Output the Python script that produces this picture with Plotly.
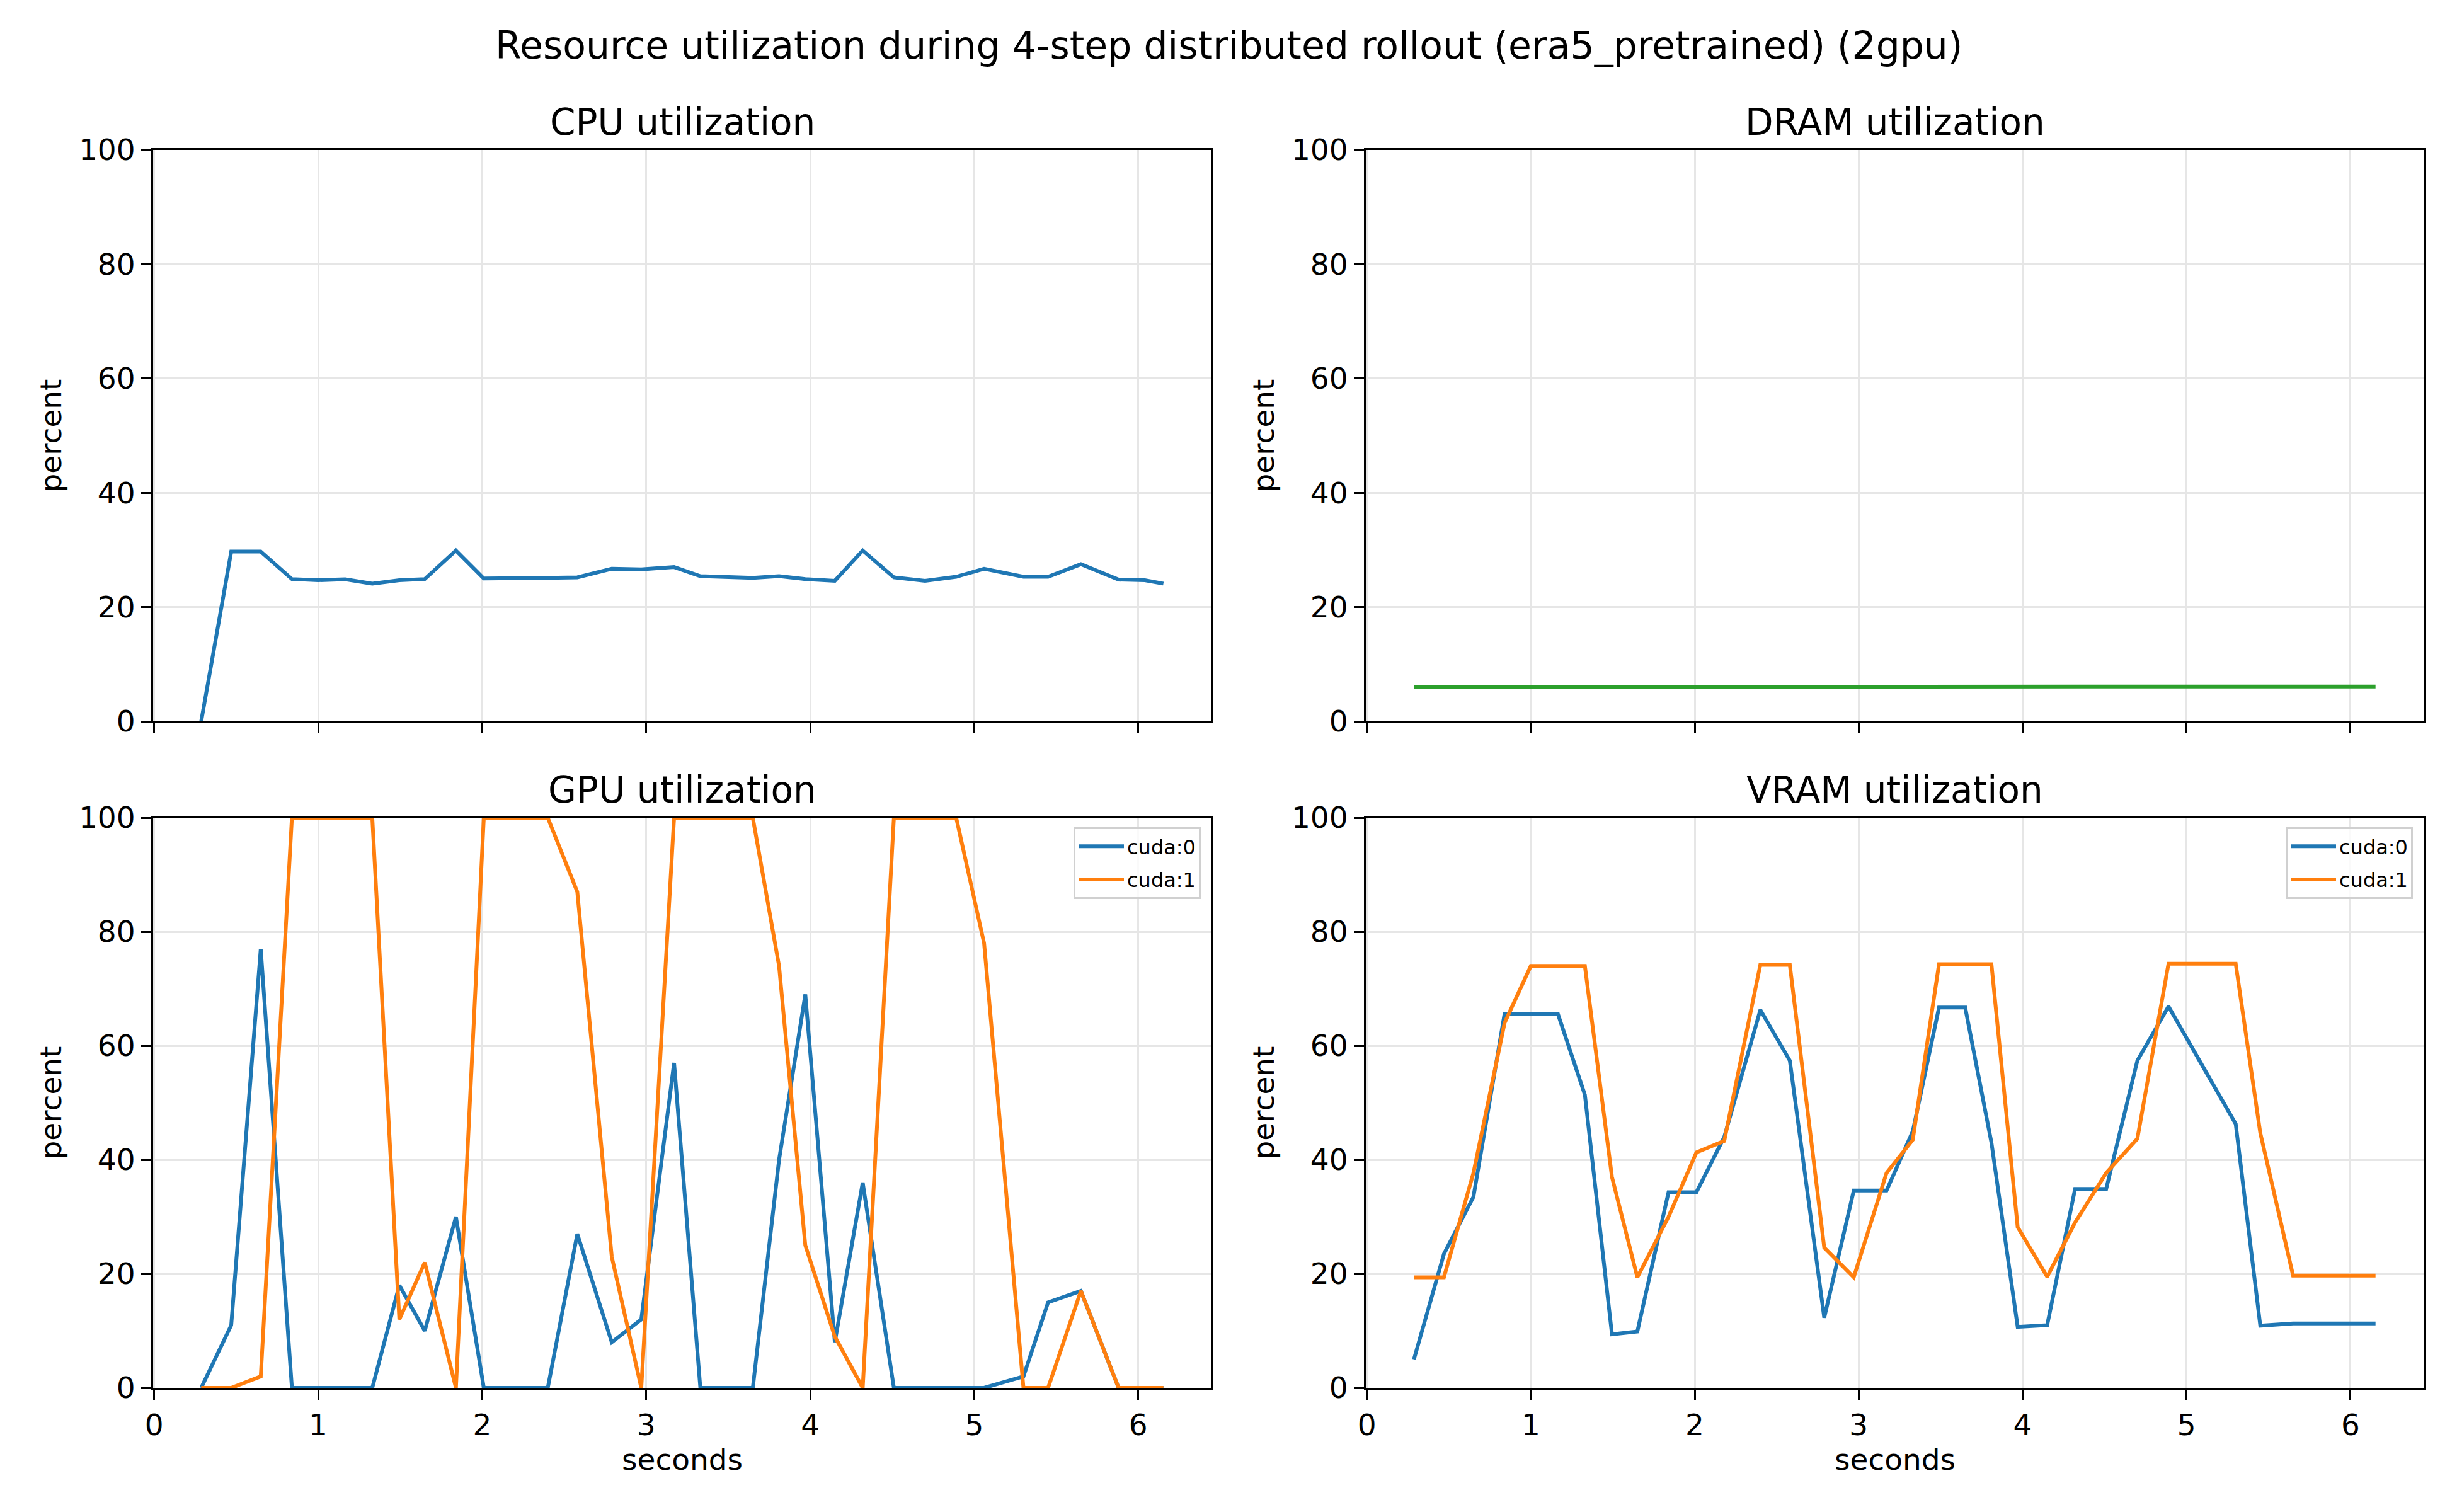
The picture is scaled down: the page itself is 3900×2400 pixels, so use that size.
import plotly.graph_objects as go

# ---------------- data ----------------
seconds = [0.287, 0.47, 0.65, 0.84, 1.0, 1.165, 1.33, 1.495, 1.65, 1.84,
           2.01, 2.18, 2.40, 2.58, 2.79, 2.97, 3.17, 3.33, 3.49, 3.65,
           3.81, 3.97, 4.15, 4.32, 4.51, 4.70, 4.89, 5.06, 5.30, 5.45,
           5.65, 5.88, 6.04, 6.153]

cpu_util = [0.0, 29.7, 29.7, 24.9, 24.7, 24.85, 24.1, 24.7, 24.9, 29.9,
            25.0, 25.0, 25.1, 25.2, 26.7, 26.6, 27.0, 25.4, 25.3, 25.1,
            25.4, 24.9, 24.6, 29.9, 25.2, 24.6, 25.3, 26.7, 25.3, 25.3,
            27.5, 24.8, 24.7, 24.1]

dram_util = [6.05, 6.05, 6.05, 6.05, 6.05, 6.05, 6.05, 6.05, 6.05, 6.05,
             6.1, 6.1, 6.05, 6.05, 6.05, 6.05, 6.1, 6.1, 6.05, 6.05,
             6.05, 6.05, 6.05, 6.1, 6.1, 6.1, 6.05, 6.05, 6.05, 6.05,
             6.05, 6.05, 6.1, 6.1]

gpu_cuda0 = [0, 11, 77, 0, 0, 0, 0, 18, 10, 30,
             0, 0, 0, 27, 8, 12, 57, 0, 0, 0,
             40, 69, 8, 36, 0, 0, 0, 0, 2, 15,
             17, 0, 0, 0]
gpu_cuda1 = [0, 0, 2, 100, 100, 100, 100, 12, 22, 0,
             100, 100, 100, 87, 23, 0, 100, 100, 100, 100,
             74, 25, 9, 0, 100, 100, 100, 78, 0, 0,
             17, 0, 0, 0]

vram_cuda0 = [5.0, 23.5, 33.5, 65.6, 65.6, 65.6, 51.4, 9.4, 9.9, 34.3,
              34.3, 44.0, 66.3, 57.4, 12.3, 34.6, 34.6, 45.0, 66.7, 66.7,
              43.0, 10.7, 11.0, 34.9, 34.9, 57.4, 66.9, 58.4, 46.3, 10.9,
              11.3, 11.3, 11.3, 11.3]
vram_cuda1 = [19.4, 19.4, 37.7, 64.0, 74.0, 74.0, 74.0, 37.0, 19.4, 30.0,
              41.3, 43.3, 74.2, 74.2, 24.6, 19.4, 37.7, 43.5, 74.3, 74.3,
              74.3, 28.2, 19.5, 29.0, 37.7, 43.7, 74.4, 74.4, 74.4, 44.7,
              19.7, 19.7, 19.7, 19.7]

device_names = ["cuda:0", "cuda:1"]
panel_titles = ["CPU utilization", "DRAM utilization", "GPU utilization", "VRAM utilization"]
suptitle = "Resource utilization during 4-step distributed rollout (era5_pretrained) (2gpu)"
y_ticks = [0, 20, 40, 60, 80, 100]
x_ticks = [0, 1, 2, 3, 4, 5, 6]

# ---------------- style ----------------
OFF = 8                      # page body margin of the browser
W, H = 3900 - OFF, 2400 - OFF
FONT = "DejaVu Sans"
BLUE, ORANGE, GREEN = "#1f77b4", "#ff7f0e", "#2ca02c"
LW = 6
TICK_FS = 47

def px(v):   # screen x -> paper
    return (v - OFF) / W

def py(v):   # screen y -> paper
    return 1 - (v - OFF) / H

# axes boxes in screen pixels (left, right, top, bottom)
boxes = [(243, 1923, 238, 1145), (2168, 3847, 238, 1145),
         (243, 1923, 1298, 2203), (2168, 3847, 1298, 2203)]
ylabel_x = [80, 2005, 80, 2005]

xmin = min(seconds); xmax = max(seconds)
pad = 0.05 * (xmax - xmin)
xrange = [xmin - pad, xmax + pad]

fig = go.Figure()

def add(x, y, color, idx, name=None, legend=None):
    sx = "" if idx == 1 else str(idx)
    fig.add_trace(go.Scatter(
        x=x, y=y, mode="lines", line=dict(color=color, width=LW),
        name=name, showlegend=legend is not None,
        legend=legend if legend else "legend",
        legendgroup=(legend or "") + (name or ""),
        xaxis="x" + sx, yaxis="y" + sx,
    ))

add(seconds, cpu_util, BLUE, 1)
add(seconds, dram_util, GREEN, 2)
add(seconds, gpu_cuda0, BLUE, 3, device_names[0], "legend")
add(seconds, gpu_cuda1, ORANGE, 3, device_names[1], "legend")
add(seconds, vram_cuda0, BLUE, 4, device_names[0], "legend2")
add(seconds, vram_cuda1, ORANGE, 4, device_names[1], "legend2")

layout = dict(
    template="none",
    width=W, height=H, margin=dict(l=0, r=0, t=0, b=0, autoexpand=False),
    paper_bgcolor="white", plot_bgcolor="white",
    font=dict(family=FONT, size=TICK_FS, color="black"),
    showlegend=True,
)

annotations = []
for i, (l, r, t, b) in enumerate(boxes, start=1):
    sx = "" if i == 1 else str(i)
    axis_common = dict(
        showline=True, linecolor="black", linewidth=3, mirror=True,
        ticks="outside", ticklen=16, tickwidth=3, tickcolor="black",
        showgrid=True, gridcolor="#e6e6e6", gridwidth=3,
        zeroline=False, automargin=False,
        tickfont=dict(family=FONT, size=TICK_FS, color="black"),
    )
    layout["xaxis" + sx] = dict(
        axis_common, domain=[px(l), px(r)], range=xrange,
        tickvals=x_ticks, ticktext=[str(v) for v in x_ticks],
        showticklabels=(i >= 3), anchor="y" + sx,
    )
    layout["yaxis" + sx] = dict(
        axis_common, domain=[py(b), py(t)], range=[0, 100],
        tickvals=y_ticks, ticktext=[str(v) for v in y_ticks],
        anchor="x" + sx,
    )
    annotations.append(dict(
        text=panel_titles[i - 1], x=px((l + r) / 2), y=py(t - 44),
        xref="paper", yref="paper", xanchor="center", yanchor="middle",
        showarrow=False, font=dict(family=FONT, size=58, color="black")))
    annotations.append(dict(
        text="percent", x=px(ylabel_x[i - 1]), y=py((t + b) / 2), textangle=-90,
        xref="paper", yref="paper", xanchor="center", yanchor="middle",
        showarrow=False, font=dict(family=FONT, size=TICK_FS, color="black")))
    if i >= 3:
        annotations.append(dict(
            text="seconds", x=px((l + r) / 2), y=py(2316),
            xref="paper", yref="paper", xanchor="center", yanchor="middle",
            showarrow=False, font=dict(family=FONT, size=TICK_FS, color="black")))

annotations.append(dict(
    text=suptitle, x=px(1950), y=py(72), xref="paper", yref="paper",
    xanchor="center", yanchor="middle", showarrow=False,
    font=dict(family=FONT, size=60, color="black")))
layout["annotations"] = annotations

leg_common = dict(
    bgcolor="rgba(255,255,255,0.8)", bordercolor="#d0d0d0", borderwidth=3,
    font=dict(family=FONT, size=32, color="black"),
    xanchor="right", yanchor="top", tracegroupgap=8, itemwidth=72,
)
layout["legend"] = dict(leg_common, x=px(1906), y=py(1313))
layout["legend2"] = dict(leg_common, x=px(3830), y=py(1313))

fig.update_layout(**layout)
fig.write_html("out.html")
